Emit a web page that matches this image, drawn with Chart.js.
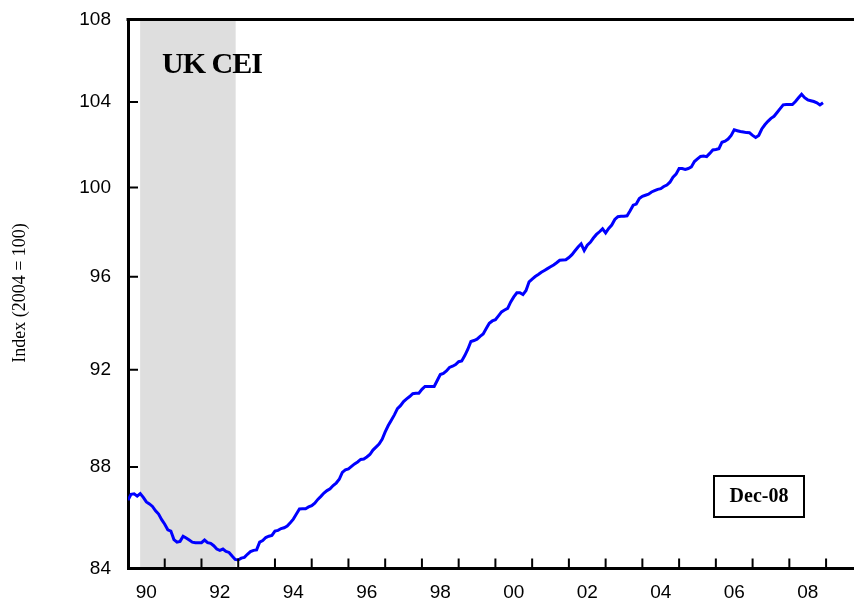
<!DOCTYPE html>
<html>
<head>
<meta charset="utf-8">
<script src="https://cdn.jsdelivr.net/npm/chart.js@4/dist/chart.umd.min.js"></script>
<style>
  body { margin: 0; background: #fff; }
  canvas { display: block; }
</style>
</head>
<body>
<canvas id="myChart" width="854" height="608"></canvas>
<script>
// UK CEI, monthly, Jan 1990 - Dec 2008 (index 2004 = 100)
const startYear = 1990;
const cei = [
  86.67, 86.90, 86.92, 86.83, 86.93, 86.78, 86.60, 86.52, 86.42, 86.25, 86.12, 85.90, // 1990
  85.72, 85.50, 85.45, 85.12, 85.02, 85.05, 85.25, 85.18, 85.10, 85.02, 85.00, 85.00, // 1991
  85.00, 85.10, 85.00, 84.97, 84.88, 84.75, 84.70, 84.75, 84.66, 84.62, 84.48, 84.35, // 1992
  84.33, 84.40, 84.43, 84.55, 84.65, 84.70, 84.72, 85.02, 85.08, 85.20, 85.25, 85.28, // 1993
  85.45, 85.48, 85.55, 85.58, 85.65, 85.78, 85.92, 86.12, 86.32, 86.33, 86.33, 86.40, // 1994
  86.45, 86.55, 86.70, 86.82, 86.95, 87.05, 87.12, 87.25, 87.35, 87.50, 87.78, 87.88, // 1995
  87.92, 88.02, 88.12, 88.20, 88.30, 88.32, 88.40, 88.50, 88.68, 88.80, 88.92, 89.12, // 1996
  89.42, 89.68, 89.90, 90.12, 90.38, 90.50, 90.67, 90.78, 90.88, 91.00, 91.02, 91.02, // 1997
  91.18, 91.30, 91.30, 91.30, 91.30, 91.55, 91.80, 91.85, 91.95, 92.10, 92.15, 92.22, // 1998
  92.34, 92.37, 92.60, 92.87, 93.20, 93.24, 93.30, 93.42, 93.52, 93.75, 93.98, 94.08, // 1999
  94.13, 94.30, 94.47, 94.55, 94.62, 94.90, 95.12, 95.30, 95.30, 95.22, 95.40, 95.78, // 2000
  95.90, 96.01, 96.10, 96.20, 96.28, 96.36, 96.44, 96.52, 96.62, 96.73, 96.74, 96.75, // 2001
  96.85, 96.98, 97.15, 97.32, 97.46, 97.16, 97.40, 97.53, 97.72, 97.88, 98.00, 98.13, // 2002
  97.95, 98.15, 98.30, 98.55, 98.68, 98.70, 98.70, 98.72, 98.95, 99.20, 99.25, 99.50, // 2003
  99.60, 99.65, 99.70, 99.80, 99.86, 99.92, 99.95, 100.05, 100.12, 100.25, 100.48, 100.62, // 2004
  100.88, 100.88, 100.84, 100.88, 100.95, 101.20, 101.32, 101.44, 101.46, 101.43, 101.58, 101.74, // 2005
  101.76, 101.80, 102.10, 102.15, 102.25, 102.42, 102.68, 102.64, 102.60, 102.58, 102.55, 102.54, // 2006
  102.42, 102.32, 102.42, 102.72, 102.92, 103.08, 103.22, 103.32, 103.50, 103.68, 103.86, 103.88, // 2007
  103.88, 103.88, 104.02, 104.20, 104.37, 104.20, 104.10, 104.06, 104.02, 103.96, 103.86, 103.96  // 2008
];
const xTickLabels = ['90', '92', '94', '96', '98', '00', '02', '04', '06', '08'];
const yTicks = [84, 88, 92, 96, 100, 104, 108];
const shadeStart = 1990.33;
const shadeEnd = 1992.93;

const points = cei.map((v, i) => ({ x: startYear + i / 12, y: v }));

const framePlugin = {
  id: 'framePlugin',
  beforeDraw(chart) {
    const { ctx, chartArea, scales } = chart;
    ctx.save();
    ctx.fillStyle = '#dedede';
    const x0 = scales.x.getPixelForValue(shadeStart);
    const x1 = scales.x.getPixelForValue(shadeEnd);
    ctx.fillRect(x0, chartArea.top, x1 - x0, chartArea.bottom - chartArea.top);
    ctx.restore();
  },
  afterDraw(chart) {
    const { ctx, chartArea, scales } = chart;
    ctx.save();
    ctx.strokeStyle = '#000';
    // top border
    ctx.lineWidth = 3;
    ctx.beginPath();
    ctx.moveTo(chartArea.left - 1.5, chartArea.top);
    ctx.lineTo(chartArea.right, chartArea.top);
    ctx.stroke();
    // inward ticks
    ctx.lineWidth = 2;
    ctx.beginPath();
    yTicks.forEach((v) => {
      const y = scales.y.getPixelForValue(v);
      ctx.moveTo(chartArea.left, y);
      ctx.lineTo(chartArea.left + 10, y);
    });
    for (let yr = startYear + 1; yr < scales.x.max; yr++) {
      const x = scales.x.getPixelForValue(yr);
      ctx.moveTo(x, chartArea.bottom);
      ctx.lineTo(x, chartArea.bottom - 10);
    }
    ctx.stroke();

    // title
    ctx.fillStyle = '#000';
    ctx.font = 'bold 30px "Liberation Serif"';
    ctx.letterSpacing = '-1px';
    ctx.textAlign = 'left';
    ctx.textBaseline = 'alphabetic';
    ctx.fillText('UK CEI', 162, 73);
    ctx.letterSpacing = '0px';

    // date box
    ctx.lineWidth = 2;
    ctx.strokeRect(714, 476, 90, 41);
    ctx.font = 'bold 20px "Liberation Serif"';
    ctx.textAlign = 'center';
    ctx.textBaseline = 'middle';
    ctx.fillText('Dec-08', 759, 497);

    // y axis title
    ctx.translate(20, 293);
    ctx.rotate(-Math.PI / 2);
    ctx.font = '18px "Liberation Serif"';
    ctx.fillText('Index (2004 = 100)', 0, 0);
    ctx.restore();
  }
};

const ctx = document.getElementById('myChart');
new Chart(ctx, {
  type: 'line',
  data: {
    datasets: [{
      data: points,
      borderColor: '#0000ff',
      borderWidth: 3,
      pointRadius: 0,
      tension: 0,
      fill: false
    }]
  },
  options: {
    responsive: false,
    animation: false,
    layout: { padding: { top: 19.5, right: 0, bottom: 0, left: 0 } },
    plugins: { legend: { display: false }, tooltip: { enabled: false } },
    scales: {
      x: {
        type: 'linear',
        min: 1990,
        max: 2009.76,
        grid: { display: false, drawTicks: false },
        border: { color: '#000', width: 3 },
        afterFit: (scale) => {
          scale.height = 39.5;
          scale.paddingLeft = 0;
          scale.paddingRight = 0;
        },
        afterBuildTicks: (scale) => {
          scale.ticks = xTickLabels.map((l, i) => ({ value: startYear + 0.5 + i * 2 }));
        },
        ticks: {
          autoSkip: false,
          maxRotation: 0,
          padding: 13,
          color: '#000',
          font: { family: '"Liberation Sans"', size: 19 },
          callback: (value, index) => xTickLabels[index]
        }
      },
      y: {
        type: 'logarithmic',
        min: 84,
        max: 108,
        grid: { display: false, drawTicks: false },
        border: { color: '#000', width: 3 },
        afterFit: (scale) => {
          scale.width = 128;
          scale.paddingTop = 0;
          scale.paddingBottom = 0;
        },
        afterBuildTicks: (scale) => {
          scale.ticks = yTicks.map((v) => ({ value: v }));
        },
        ticks: {
          autoSkip: false,
          padding: 17,
          color: '#000',
          font: { family: '"Liberation Sans"', size: 19 },
          callback: (value) => String(value)
        }
      }
    }
  },
  plugins: [framePlugin]
});
</script>
</body>
</html>
